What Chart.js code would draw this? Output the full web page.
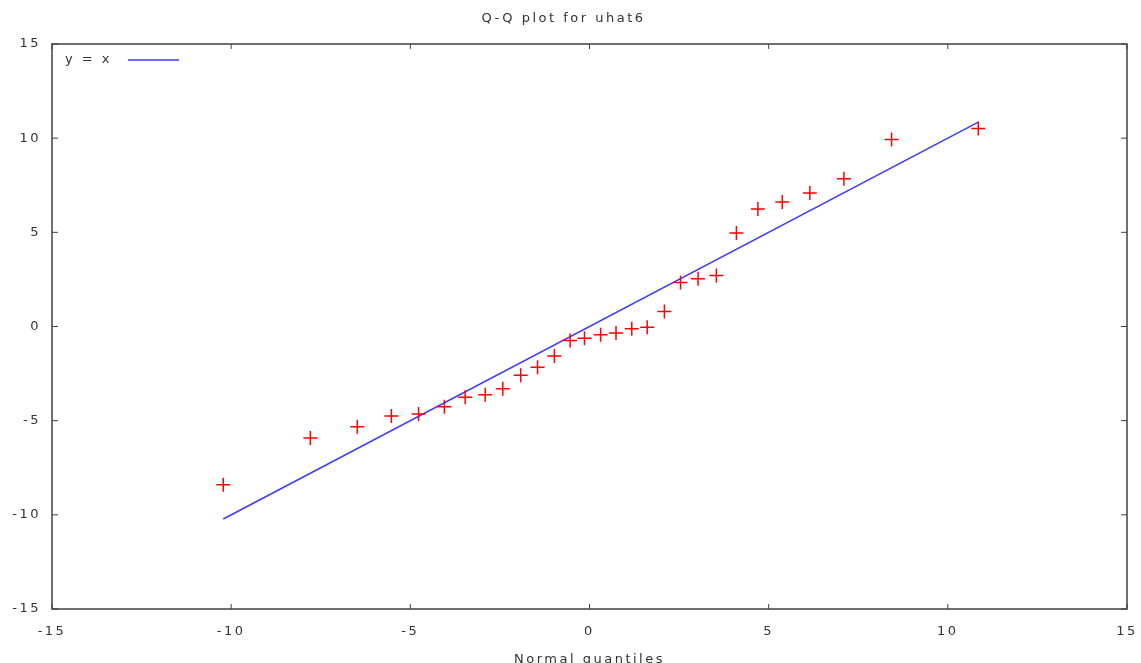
<!DOCTYPE html>
<html>
<head>
<meta charset="utf-8">
<script src="https://cdn.jsdelivr.net/npm/chart.js@4/dist/chart.umd.min.js"></script>
<style>
  html, body { margin: 0; padding: 0; background: #fff; }
  #wrap { width: 1141px; height: 663px; }
</style>
</head>
<body>
<div id="wrap"><canvas id="qq"></canvas></div>
<script>
// normal quantiles (x) and sorted residuals (y)
const quantiles = [-10.22, -7.79, -6.48, -5.53, -4.77, -4.05, -3.47, -2.91, -2.42, -1.92,
                   -1.45, -0.98, -0.54, -0.14, 0.31, 0.74, 1.18, 1.61, 2.09, 2.54,
                   3.03, 3.54, 4.10, 4.70, 5.38, 6.15, 7.10, 8.43, 10.85];
const residuals = [-8.40, -5.92, -5.32, -4.75, -4.64, -4.26, -3.76, -3.62, -3.30, -2.59,
                   -2.16, -1.56, -0.74, -0.62, -0.44, -0.34, -0.12, -0.04, 0.80, 2.34,
                   2.54, 2.71, 4.96, 6.24, 6.61, 7.09, 7.84, 9.93, 10.51];
const tickValues = [-15, -10, -5, 0, 5, 10, 15];

const lo = Math.min(...quantiles), hi = Math.max(...quantiles);
const font = { family: 'DejaVu Sans', size: 13 };
const textColor = '#333';

// the original gnuplot png has wide, spaced-out lettering
const spacingPlugin = {
    id: 'spacing',
    beforeLayout(chart) { chart.ctx.letterSpacing = '2.5px'; },
    beforeDraw(chart) { chart.ctx.letterSpacing = '2.5px'; }
};

// gnuplot-style frame with inward mirrored ticks, plus the "y = x" key
const framePlugin = {
    id: 'frame',
    afterDraw(chart) {
        const { ctx, chartArea: a, scales } = chart;
        ctx.save();
        ctx.strokeStyle = '#404040';
        ctx.lineWidth = 1.5;
        ctx.strokeRect(a.left, a.top, a.right - a.left, a.bottom - a.top);
        ctx.lineWidth = 1;
        tickValues.forEach(v => {
            const x = scales.x.getPixelForValue(v);
            const y = scales.y.getPixelForValue(v);
            ctx.beginPath();
            ctx.moveTo(x, a.bottom); ctx.lineTo(x, a.bottom - 5);
            ctx.moveTo(x, a.top); ctx.lineTo(x, a.top + 5);
            ctx.moveTo(a.left, y); ctx.lineTo(a.left + 6, y);
            ctx.moveTo(a.right, y); ctx.lineTo(a.right - 6, y);
            ctx.stroke();
        });
        // key
        ctx.fillStyle = textColor;
        ctx.font = '13px "DejaVu Sans"';
        ctx.textBaseline = 'middle';
        ctx.fillText('y = x', a.left + 13, a.top + 16);
        ctx.strokeStyle = chart.data.datasets[1].borderColor;
        ctx.lineWidth = 1.5;
        ctx.beginPath();
        ctx.moveTo(a.left + 76, a.top + 16);
        ctx.lineTo(a.left + 127, a.top + 16);
        ctx.stroke();
        ctx.restore();
    }
};

new Chart(document.getElementById('qq'), {
    type: 'scatter',
    data: {
        datasets: [{
            label: 'uhat6',
            data: quantiles.map((q, i) => ({ x: q, y: residuals[i] })),
            pointStyle: 'cross',
            pointRadius: 7,
            pointBorderWidth: 1.5,
            borderColor: '#ff0000',
            backgroundColor: '#ff0000'
        }, {
            label: 'y = x',
            type: 'line',
            data: [{ x: lo, y: lo }, { x: hi, y: hi }],
            borderColor: '#3a3aff',
            borderWidth: 1.5,
            pointRadius: 0,
            fill: false
        }]
    },
    options: {
        responsive: true,
        maintainAspectRatio: false,
        animation: false,
        layout: { padding: { right: 14 } },
        plugins: {
            legend: { display: false },
            tooltip: { enabled: false },
            title: {
                display: true,
                text: 'Q-Q plot for uhat6',
                color: textColor,
                font: { family: 'DejaVu Sans', size: 13, weight: 'normal' },
                padding: { top: 11, bottom: 17.4 }
            }
        },
        scales: {
            x: {
                type: 'linear', min: -15, max: 15,
                grid: { display: false, drawTicks: false },
                border: { display: false },
                ticks: { stepSize: 5, color: textColor, font, padding: 15 },
                title: { display: true, text: 'Normal quantiles', color: textColor, font, padding: { top: 0, bottom: -4 } },
                afterFit(s) { s.height = 54; s.paddingLeft = 0; s.paddingRight = 0; }
            },
            y: {
                type: 'linear', min: -15, max: 15,
                grid: { display: false, drawTicks: false },
                border: { display: false },
                ticks: { stepSize: 5, color: textColor, font, padding: 11 },
                afterFit(s) { s.width = 52; s.paddingTop = 0; s.paddingBottom = 0; }
            }
        }
    },
    plugins: [spacingPlugin, framePlugin]
});
</script>
</body>
</html>
